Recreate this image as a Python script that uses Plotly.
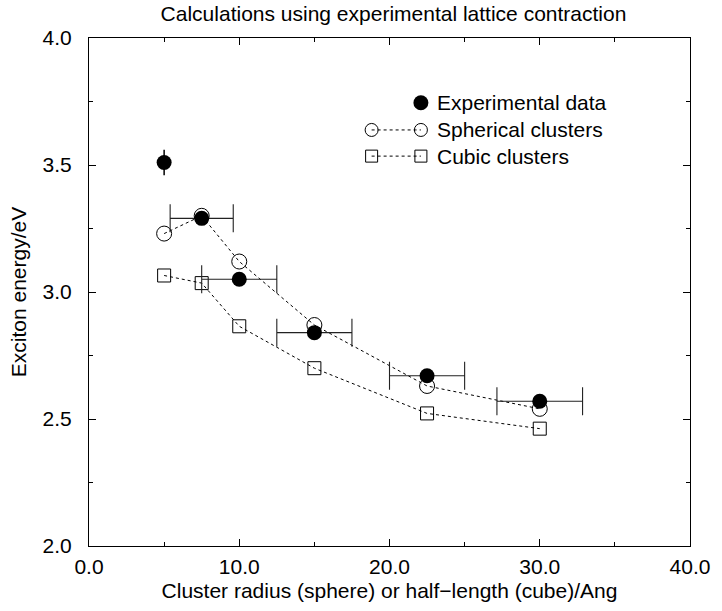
import plotly.graph_objects as go

# Experimental exciton energies with size uncertainty
exp_radius = [5.0, 7.5, 10.0, 15.0, 22.5, 30.0]
exp_energy = [3.51, 3.29, 3.05, 2.84, 2.67, 2.57]
exp_radius_err = [0.0, 2.1, 2.5, 2.5, 2.5, 2.85]
exp_energy_err = [0.05, 0.0, 0.0, 0.0, 0.0, 0.0]

# Calculated energies
sphere_radius = [5.0, 7.5, 10.0, 15.0, 22.5, 30.0]
sphere_energy = [3.23, 3.30, 3.12, 2.87, 2.63, 2.54]
cube_halflength = [5.0, 7.5, 10.0, 15.0, 22.5, 30.0]
cube_energy = [3.065, 3.035, 2.865, 2.70, 2.522, 2.462]

x_tickvals = [0, 10, 20, 30, 40]
x_ticktext = ["0.0", "10.0", "20.0", "30.0", "40.0"]
y_tickvals = [2.0, 2.5, 3.0, 3.5, 4.0]
y_ticktext = ["2.0", "2.5", "3.0", "3.5", "4.0"]

legend_labels = ["Experimental data", "Spherical clusters", "Cubic clusters"]

FONT = "Liberation Sans, Arial, Helvetica, sans-serif"
FS = 21

fig = go.Figure()

fig.add_trace(go.Scatter(
    x=sphere_radius, y=sphere_energy, mode="lines+markers",
    line=dict(color="black", width=1, dash="dot"),
    marker=dict(symbol="circle-open", size=15, color="black", line=dict(width=1)),
    showlegend=False, cliponaxis=False,
))
fig.add_trace(go.Scatter(
    x=cube_halflength, y=cube_energy, mode="lines+markers",
    line=dict(color="black", width=1, dash="dot"),
    marker=dict(symbol="square-open", size=13, color="black", line=dict(width=1)),
    showlegend=False, cliponaxis=False,
))

# first experimental point carries an energy error bar only
fig.add_trace(go.Scatter(
    x=exp_radius[:1], y=exp_energy[:1], mode="markers",
    error_y=dict(type="data", array=exp_energy_err[:1], visible=True,
                 color="black", thickness=1.5, width=0),
    marker=dict(symbol="circle", size=15, color="black"),
    showlegend=False,
))
fig.add_trace(go.Scatter(
    x=exp_radius[1:], y=exp_energy[1:], mode="markers",
    error_x=dict(type="data", array=exp_radius_err[1:], visible=True,
                 color="#222222", thickness=1.1, width=14),
    marker=dict(symbol="circle", size=15, color="black"),
    showlegend=False,
))

# hand-drawn key inside the plot area
key_x_left, key_x_right, key_x_text = 18.81, 22.09, 23.0
key_y = [3.745, 3.638, 3.535]

fig.add_trace(go.Scatter(
    x=[key_x_right], y=[key_y[0]], mode="markers",
    marker=dict(symbol="circle", size=15, color="black"), showlegend=False,
))
fig.add_trace(go.Scatter(
    x=[key_x_left, key_x_right], y=[key_y[1], key_y[1]], mode="lines+markers",
    line=dict(color="black", width=1, dash="dot"),
    marker=dict(symbol="circle-open", size=13, color="black", line=dict(width=1)),
    showlegend=False,
))
fig.add_trace(go.Scatter(
    x=[key_x_left, key_x_right], y=[key_y[2], key_y[2]], mode="lines+markers",
    line=dict(color="black", width=1, dash="dot"),
    marker=dict(symbol="square-open", size=12, color="black", line=dict(width=1)),
    showlegend=False,
))
for label, yy in zip(legend_labels, key_y):
    fig.add_annotation(x=key_x_text, y=yy, xref="x", yref="y", text=label,
                       showarrow=False, xanchor="left", yanchor="middle",
                       font=dict(family=FONT, size=FS, color="black"))

axis_common = dict(
    showline=True, linecolor="black", linewidth=1.2, mirror="ticks",
    ticks="inside", ticklen=7, tickwidth=1, tickcolor="black",
    showgrid=False, zeroline=False,
    tickfont=dict(family=FONT, size=FS, color="black"),
)

fig.update_layout(
    width=722, height=611,
    margin=dict(l=89, r=24, t=38, b=65),
    paper_bgcolor="white", plot_bgcolor="white",
    font=dict(family=FONT, size=FS, color="black"),
    title=dict(text="Calculations using experimental lattice contraction",
               x=0.545, xanchor="center", y=1 - 14 / 611, yanchor="middle",
               yref="container", font=dict(family=FONT, size=FS, color="black")),
    xaxis=dict(range=[0, 40], tickvals=x_tickvals, ticktext=x_ticktext,
               minor=dict(dtick=5, ticks="inside", ticklen=4, tickcolor="black"),
               title=dict(text="Cluster radius (sphere) or half\u2212length (cube)/Ang",
                          font=dict(family=FONT, size=FS), standoff=6),
               ticklabelstandoff=2,
               **axis_common),
    yaxis=dict(range=[2.0, 4.0], tickvals=y_tickvals, ticktext=y_ticktext,
               minor=dict(dtick=0.25, ticks="inside", ticklen=4, tickcolor="black"),
               title=dict(text="Exciton energy/eV", font=dict(family=FONT, size=FS),
                          standoff=10),
               ticklabelstandoff=12,
               **axis_common),
)

fig.write_html("out.html")
